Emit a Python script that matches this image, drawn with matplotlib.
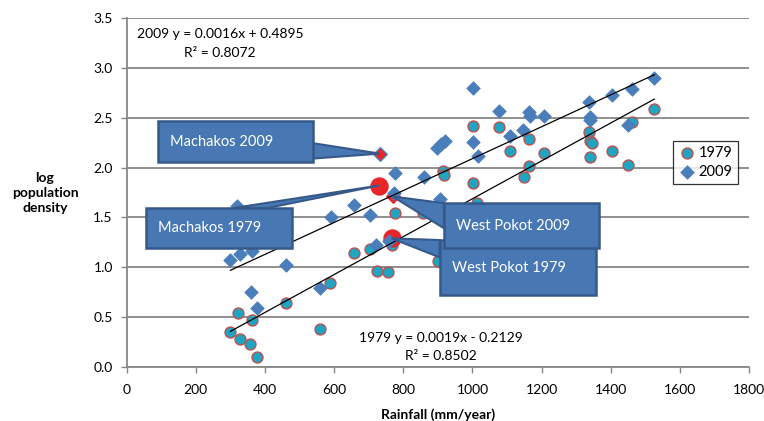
import matplotlib
matplotlib.use("Agg")
import matplotlib.pyplot as plt
from matplotlib.patches import Polygon, Rectangle
import numpy as np

plt.rcParams['font.family'] = ['Lato', 'DejaVu Sans']

# ---- data ----
rain_1979 = [300, 322, 329, 358, 363, 378, 462, 558, 589, 657, 703, 725, 756, 766, 775,
             857, 896, 900, 915, 917, 1001, 1001, 1014, 1076, 1110, 1148, 1165, 1165, 1206,
             1337, 1339, 1345, 1339, 1404, 1449, 1462, 1526]
logpd_1979 = [0.35, 0.54, 0.28, 0.23, 0.47, 0.10, 0.64, 0.38, 0.84, 1.14, 1.18, 0.96, 0.95, 1.22, 1.54,
              1.54, 1.60, 1.06, 1.97, 1.93, 2.42, 1.85, 1.64, 2.41, 2.17, 1.91, 2.29, 2.02, 2.15,
              2.36, 2.27, 2.25, 2.11, 2.17, 2.03, 2.46, 2.59]
rain_2009 = [300, 320, 329, 359, 363, 378, 462, 558, 592, 658, 705, 722, 758, 772, 775,
             859, 897, 905, 910, 920, 1001, 1003, 1016, 1076, 1109, 1146, 1163, 1167, 1206,
             1337, 1341, 1341, 1404, 1449, 1462, 1526]
logpd_2009 = [1.07, 1.61, 1.13, 0.75, 1.16, 0.59, 1.02, 0.79, 1.50, 1.62, 1.52, 1.22, 1.26, 1.75, 1.95,
              1.91, 2.20, 1.68, 2.24, 2.27, 2.80, 2.26, 2.12, 2.57, 2.32, 2.38, 2.56, 2.52, 2.52,
              2.66, 2.51, 2.48, 2.73, 2.43, 2.79, 2.90]

# highlighted districts
hl_names = ['Machakos 1979', 'West Pokot 1979', 'Machakos 2009', 'West Pokot 2009']
hl_rain = [730, 766, 732, 769]
hl_logpd = [1.82, 1.29, 2.14, 1.71]

# trend lines (slope, intercept, R2)
fit_1979 = (0.0019, -0.2129, 0.8502)
fit_2009 = (0.0016, 0.4895, 0.8072)

x_ticks = [0, 200, 400, 600, 800, 1000, 1200, 1400, 1600, 1800]
y_ticks = [0.0, 0.5, 1.0, 1.5, 2.0, 2.5, 3.0, 3.5]

# ---- styles ----
CYAN = '#1FA5C2'
CEDGE = '#C0504D'
DBLUE = '#4A7EBB'
RED = '#E8262A'
BOXF = '#4878B4'
BOXE = '#36598A'
GRID = '#878787'

fig = plt.figure(figsize=(7.64, 4.21), dpi=100)
ax = fig.add_axes([0.1658, 0.1283, 0.8146, 0.8289])
ax.set_xlim(0, 1800)
ax.set_ylim(0, 3.5)

ax.set_yticks(y_ticks)
ax.set_yticklabels([f'{v:.1f}' for v in y_ticks])
ax.set_xticks(x_ticks)
ax.set_xticklabels([str(v) for v in x_ticks])
ax.grid(axis='y', color=GRID, lw=1.3, zorder=0)
ax.set_axisbelow(True)
for s in ['top', 'right']:
    ax.spines[s].set_visible(False)
for s in ['left', 'bottom']:
    ax.spines[s].set_color(GRID)
    ax.spines[s].set_linewidth(1.3)
ax.tick_params(axis='both', colors=GRID, length=4, width=1.0, labelsize=10, labelcolor='black')
ax.tick_params(axis='x', pad=8)
ax.tick_params(axis='y', pad=6)

# scatter points
ax.scatter(rain_1979, logpd_1979, s=62, marker='o', facecolor=CYAN, edgecolor=CEDGE,
           linewidth=1.0, zorder=3, label='1979')
# highlighted (red) markers
ax.scatter(hl_rain[0:2], hl_logpd[0:2], s=150, marker='o', facecolor=RED, edgecolor=RED, zorder=4)
ax.scatter(hl_rain[3:4], hl_logpd[3:4], s=48, marker='D', facecolor=RED, edgecolor=RED, zorder=3.5)
ax.scatter(rain_2009, logpd_2009, s=48, marker='D', facecolor=DBLUE, edgecolor=DBLUE,
           linewidth=0.5, zorder=4, label='2009')
ax.scatter(hl_rain[2:3], hl_logpd[2:3], s=48, marker='D', facecolor=RED, edgecolor=DBLUE,
           linewidth=1.0, zorder=4.5)

# trend lines
for xs, fit in [(rain_1979, fit_1979), (rain_2009, fit_2009)]:
    xx = np.array([min(xs), max(xs)])
    ax.plot(xx, fit[0] * xx + fit[1], color='black', lw=0.9, zorder=5)

# equations
ax.text(270, 3.34, f'2009 y = {fit_2009[0]:.4f}x + {fit_2009[1]:.4f}',
        ha='center', va='center', fontsize=10)
ax.text(270, 3.15, f'R² = {fit_2009[2]:.4f}', ha='center', va='center', fontsize=10)
ax.text(909, 0.29, f'1979 y = {fit_1979[0]:.4f}x - {abs(fit_1979[1]):.4f}',
        ha='center', va='center', fontsize=10)
ax.text(909, 0.115, f'R² = {fit_1979[2]:.4f}', ha='center', va='center', fontsize=10)


def callout(box, base, tip, text):
    x0, y0, x1, y1 = box
    wedge = Polygon([base[0], base[1], tip], closed=True, facecolor=BOXF,
                    edgecolor=BOXE, lw=1.5, zorder=6)
    ax.add_patch(wedge)
    rect = Rectangle((x0, y0), x1 - x0, y1 - y0, facecolor=BOXF, edgecolor=BOXE,
                     lw=1.8, zorder=6.1)
    ax.add_patch(rect)
    ax.text(x0 + 35, (y0 + y1) / 2, text, color='white', fontsize=10.5,
            ha='left', va='center', zorder=7)


callout((90, 2.054, 538, 2.465), [(538, 2.245), (538, 2.09)], (hl_rain[2], hl_logpd[2]), hl_names[2])
callout((56, 1.192, 477, 1.593), [(307, 1.593), (405, 1.593)], (hl_rain[0], hl_logpd[0]), hl_names[0])
callout((905, 0.721, 1356, 1.273), [(905, 1.273), (905, 1.10)], (hl_rain[1], hl_logpd[1]), hl_names[1])
callout((917, 1.192, 1365, 1.643), [(917, 1.643), (917, 1.393)], (hl_rain[3], hl_logpd[3]), hl_names[3])

# legend
leg = ax.legend(loc='upper left', bbox_to_anchor=(0.878, 0.648), frameon=True, fancybox=False,
                edgecolor='black', fontsize=10.5, handletextpad=0.2, borderpad=0.35,
                labelspacing=0.35, handlelength=1.2, borderaxespad=0)
leg.get_frame().set_linewidth(0.9)
leg.set_zorder(8)

ax.set_xlabel('Rainfall (mm/year)', fontsize=10, fontweight='bold', labelpad=9)
fig.text(45 / 764, 1 - 193 / 421, 'log\npopulation\ndensity', ha='center', va='center',
         fontsize=10, fontweight='bold', linespacing=1.3)

fig.savefig('out.png', dpi=100)
